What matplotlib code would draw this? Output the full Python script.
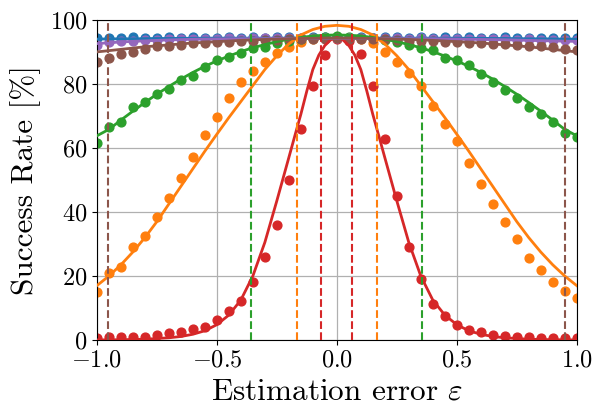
import matplotlib
matplotlib.use('Agg')
import matplotlib.pyplot as plt
import numpy as np

plt.rcParams['font.family'] = 'serif'
plt.rcParams['font.serif'] = ['cmr10']
plt.rcParams['mathtext.fontset'] = 'cm'
plt.rcParams['axes.formatter.use_mathtext'] = True

# measured points, eps = -1 ... 1 in steps of 0.05
eps = np.linspace(-1, 1, 41)

rate_blue = [94.4, 94.5, 94.4, 94.6, 94.5, 94.4, 94.6, 94.5, 94.7, 94.5, 94.4, 94.6, 94.5, 94.6, 94.5, 94.7,
             94.6, 94.5, 94.6, 94.7, 94.6, 94.5, 94.6, 94.5, 94.6, 94.7, 94.5, 94.6, 94.5, 94.6, 94.5, 94.6,
             94.4, 94.5, 94.6, 94.5, 94.4, 94.5, 94.4, 94.5, 94.4]
rate_orange = [14.9, 20.8, 22.9, 29.0, 32.5, 38.3, 44.3, 50.5, 57.1, 64.1, 69.6, 75.5, 80.6, 84.0, 86.8, 89.6,
               91.5, 93.0, 94.0, 94.5, 94.8, 94.5, 94.0, 92.7, 90.1, 87.0, 83.3, 79.5, 73.2, 67.5, 62.2, 55.2,
               48.8, 42.5, 36.8, 31.6, 25.7, 21.8, 18.2, 15.3, 13.0]
rate_green = [61.5, 66.7, 68.2, 72.7, 74.5, 76.9, 78.5, 81.2, 82.5, 85.2, 87.5, 88.3, 89.8, 91.1, 91.4, 92.7,
              93.5, 94.0, 94.5, 94.8, 95.0, 94.8, 94.5, 94.2, 93.8, 93.2, 92.2, 91.1, 90.6, 88.2, 87.5, 85.9,
              83.0, 80.7, 78.1, 75.5, 72.9, 70.6, 68.2, 64.6, 63.5]
rate_red = [0.5, 0.8, 0.8, 0.8, 1.0, 1.6, 2.1, 2.6, 3.4, 4.0, 6.2, 9.1, 12.2, 18.0, 25.9, 35.8,
            50.0, 66.0, 79.5, 89.0, 94.0, 93.5, 89.3, 79.4, 62.8, 45.0, 29.1, 19.0, 11.3, 7.5, 4.7, 3.1,
            2.5, 1.6, 1.2, 0.8, 0.8, 0.6, 0.6, 0.5, 0.5]
rate_purple = [92.2, 93.0, 93.3, 93.5, 93.6, 93.8, 93.9, 94.0, 94.0, 94.1, 94.1, 94.2, 94.1, 94.2, 94.2, 94.3,
               94.2, 94.3, 94.3, 94.2, 94.3, 94.3, 94.2, 94.3, 94.2, 94.2, 94.1, 94.2, 94.1, 94.0, 94.1, 94.0,
               93.9, 94.0, 93.9, 93.8, 93.9, 93.8, 93.7, 93.7, 93.6]
rate_brown = [86.8, 88.2, 89.3, 90.1, 90.8, 91.7, 92.0, 92.2, 92.7, 92.7, 93.0, 93.2, 93.4, 93.5, 93.6, 93.8,
              93.9, 94.0, 94.1, 94.1, 94.2, 94.1, 94.0, 94.0, 93.9, 93.8, 93.5, 93.4, 93.3, 93.2, 93.0, 92.9,
              92.8, 92.6, 92.4, 92.2, 92.0, 91.7, 91.5, 91.0, 90.5]

# fitted curves
fit_x = np.linspace(-1, 1, 41)
fit_blue = [94.0, 94.05, 94.1, 94.1, 94.15, 94.2, 94.2, 94.25, 94.25, 94.3, 94.3, 94.3, 94.3, 94.3, 94.3, 94.3,
            94.3, 94.3, 94.3, 94.3, 94.3, 94.3, 94.3, 94.3, 94.3, 94.3, 94.3, 94.3, 94.3, 94.3, 94.3, 94.25,
            94.25, 94.2, 94.2, 94.15, 94.1, 94.1, 94.05, 94.0, 94.0]
fit_orange = [17.0, 20.0, 23.5, 27.5, 32.0, 37.0, 42.5, 48.0, 53.5, 59.0, 64.3, 69.5, 74.5, 79.5, 84.5, 88.8,
              92.5, 95.3, 97.0, 98.0, 98.3, 98.0, 97.0, 95.3, 92.5, 88.8, 84.5, 79.5, 74.5, 69.5, 64.3, 59.0,
              53.5, 48.0, 42.5, 37.0, 32.0, 27.5, 23.5, 20.0, 17.0]
fit_green = [63.8, 65.8, 68.7, 71.5, 74.2, 76.8, 79.2, 81.5, 83.6, 85.5, 87.2, 88.7, 90.1, 91.3, 92.3, 93.2,
             94.0, 94.5, 95.0, 95.2, 95.3, 95.2, 95.0, 94.5, 94.0, 93.2, 92.3, 91.3, 90.1, 88.7, 87.2, 85.5,
             83.6, 81.5, 79.2, 76.8, 74.2, 71.5, 68.7, 65.8, 63.8]
fit_purple = [92.6, 92.85, 93.1, 93.3, 93.45, 93.6, 93.75, 93.85, 93.95, 94.0, 94.05, 94.1, 94.1, 94.15, 94.15, 94.2,
              94.2, 94.2, 94.2, 94.2, 94.2, 94.2, 94.2, 94.2, 94.2, 94.15, 94.15, 94.1, 94.1, 94.05, 94.0, 93.95,
              93.9, 93.85, 93.8, 93.7, 93.6, 93.5, 93.45, 93.35, 93.3]
fit_brown = [90.0, 90.4, 90.8, 91.2, 91.6, 91.9, 92.2, 92.5, 92.8, 93.0, 93.2, 93.4, 93.6, 93.75, 93.9, 94.0,
             94.1, 94.2, 94.25, 94.3, 94.3, 94.3, 94.25, 94.2, 94.1, 94.0, 93.9, 93.75, 93.6, 93.4, 93.2, 93.0,
             92.8, 92.5, 92.2, 91.9, 91.6, 91.2, 90.8, 90.4, 90.0]

fit_x_red = [-1.0, -0.9, -0.8, -0.7, -0.65, -0.6, -0.55, -0.5, -0.45, -0.4, -0.35, -0.3, -0.25, -0.2,
             -0.175, -0.15, -0.125, -0.1, -0.075, -0.05, -0.025, 0.0, 0.025, 0.05, 0.075, 0.1, 0.125, 0.15,
             0.175, 0.2, 0.25, 0.3, 0.35, 0.4, 0.45, 0.5, 0.55, 0.6, 0.65, 0.7, 0.8, 0.9, 1.0]
fit_red = [0.03, 0.1, 0.25, 0.7, 1.1, 1.8, 2.9, 4.8, 7.8, 12.5, 20.0, 30.5, 43.5, 57.0,
           63.8, 70.5, 77.8, 84.5, 89.0, 92.0, 93.8, 94.5, 93.8, 92.0, 89.0, 84.5, 77.8, 70.5,
           63.8, 57.0, 43.5, 30.5, 20.0, 12.5, 7.8, 4.8, 2.9, 1.8, 1.1, 0.7, 0.25, 0.1, 0.03]

# +/- thresholds (dashed)
thr_red = 0.065
thr_orange = 0.168
thr_green = 0.356
thr_brown = 0.953

fig = plt.figure(figsize=(6.02, 4.19), dpi=100)
ax = fig.add_axes([0.161, 0.1885, 0.797, 0.764])

series = [
    ('tab:blue', rate_blue, fit_x, fit_blue),
    ('tab:orange', rate_orange, fit_x, fit_orange),
    ('tab:green', rate_green, fit_x, fit_green),
    ('tab:red', rate_red, fit_x_red, fit_red),
    ('tab:purple', rate_purple, fit_x, fit_purple),
    ('tab:brown', rate_brown, fit_x, fit_brown),
]
for c, pts, fx, fy in series:
    ax.scatter(eps, pts, s=40, color=c, zorder=2)
    ax.plot(fx, fy, color=c, lw=2, zorder=3)

for c, t in [('tab:red', thr_red), ('tab:orange', thr_orange), ('tab:green', thr_green), ('tab:brown', thr_brown)]:
    ax.axvline(-t, color=c, ls='--', lw=1.5, zorder=4)
    ax.axvline(t, color=c, ls='--', lw=1.5, zorder=4)

ax.set_xlim(-1, 1)
ax.set_ylim(0, 100)
ax.set_xticks([-1.0, -0.5, 0.0, 0.5, 1.0])
ax.set_yticks([0, 20, 40, 60, 80, 100])
ax.tick_params(labelsize=17.5)
ax.grid(True, color='#b0b0b0', lw=0.9, zorder=0)
ax.set_axisbelow(True)
ax.set_xlabel('Estimation error $\\varepsilon$', fontsize=22.5, labelpad=4)
ax.set_ylabel('Success Rate [%]', fontsize=22.5, labelpad=6)

fig.savefig('out.png', dpi=100)
